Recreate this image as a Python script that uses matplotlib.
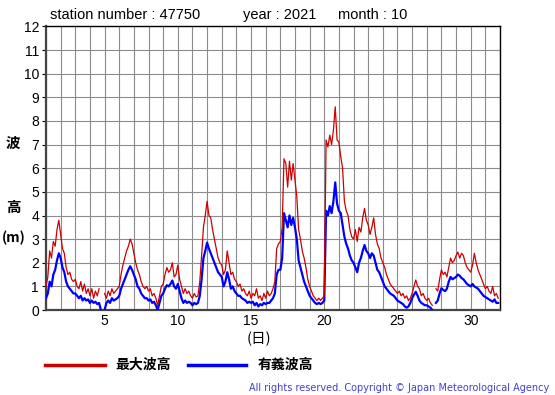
import numpy as np
import matplotlib
matplotlib.use("Agg")
import matplotlib.pyplot as plt
from matplotlib.lines import Line2D

nan = np.nan

# 3-hourly readings, 8 per day, October 1..31
max_wave = [
    1.0, 1.4, 2.5, 2.2, 2.9, 2.7, 3.4, 3.8,
    3.2, 2.6, 2.4, 1.8, 1.5, 1.6, 1.3, 1.2,
    1.3, 1.0, 0.9, 1.2, 0.8, 1.1, 0.7, 0.9,
    0.6, 0.9, 0.5, 0.8, 0.6, 0.9, nan, nan,
    0.7, 0.5, 0.8, 0.6, 0.9, 0.7, 0.8, 0.9,
    1.0, 1.5, 1.9, 2.2, 2.5, 2.7, 3.0, 2.8,
    2.4, 2.0, 1.7, 1.5, 1.2, 1.0, 0.9, 1.0,
    0.8, 0.9, 0.6, 0.7, 0.5, 0.2, 0.6, 1.0,
    1.1, 1.5, 1.8, 1.6, 1.7, 2.0, 1.4, 1.5,
    1.9, 1.3, 1.0, 0.7, 0.9, 0.7, 0.8, 0.6,
    0.5, 0.7, 0.55, 0.6, 1.2, 2.3, 3.5, 4.0,
    4.6, 4.0, 3.9, 3.4, 3.0, 2.6, 2.2, 2.0,
    1.9, 1.5, 1.7, 2.5, 2.0, 1.5, 1.6, 1.3,
    1.2, 1.0, 1.1, 0.8, 0.9, 0.7, 0.6, 0.8,
    0.5, 0.7, 0.6, 0.9, 0.5, 0.6, 0.4, 0.7,
    0.5, 0.8, 0.6, 0.7, 0.9, 1.2, 2.6, 2.8,
    2.9, 3.5, 6.4, 6.2, 5.2, 6.3, 5.5, 6.2,
    5.5, 4.8, 3.4, 3.0, 2.5, 2.2, 1.8, 1.3,
    1.0, 0.8, 0.6, 0.5, 0.4, 0.5, 0.4, 0.5,
    0.6, 7.2, 6.9, 7.4, 7.0, 7.6, 8.6, 7.2,
    7.1, 6.5, 6.0, 4.6, 4.2, 4.0, 3.4, 3.1,
    3.0, 3.4, 2.9, 3.5, 3.3, 3.9, 4.3, 3.8,
    3.6, 3.2, 3.5, 3.9, 3.2, 2.8, 2.6, 2.2,
    2.0, 1.8, 1.5, 1.3, 1.1, 1.0, 0.9, 0.8,
    0.7, 0.8, 0.6, 0.7, 0.5, 0.6, 0.4, 0.5,
    0.7, 1.0, 1.27, 1.0, 0.9, 0.6, 0.7, 0.5,
    0.4, 0.5, 0.3, 0.2, nan, 0.9, 0.8, 1.3,
    1.7, 1.5, 1.6, 1.4, 1.8, 2.2, 2.0, 2.1,
    2.3, 2.45, 2.2, 2.4, 2.3, 2.0, 1.8, 1.7,
    1.6, 1.9, 2.4, 2.0, 1.7, 1.5, 1.3, 1.1,
    0.9, 1.0, 0.8, 0.7, 1.0, 0.6, 0.7, 0.5,
]

sig_wave = [
    0.5, 0.7, 1.2, 1.0, 1.5, 1.7, 2.1, 2.4,
    2.2, 1.8, 1.6, 1.2, 1.0, 0.9, 0.8, 0.7,
    0.7, 0.6, 0.5, 0.6, 0.4, 0.5, 0.4, 0.45,
    0.3, 0.4, 0.3, 0.35, 0.25, 0.3, 0.0, nan,
    0.0, 0.3, 0.4, 0.3, 0.5, 0.4, 0.45, 0.5,
    0.6, 0.9, 1.1, 1.3, 1.5, 1.7, 1.85, 1.7,
    1.5, 1.3, 1.0, 0.9, 0.7, 0.6, 0.5, 0.5,
    0.4, 0.45, 0.3, 0.35, 0.2, 0.0, 0.3, 0.6,
    0.7, 0.9, 1.05, 1.0, 1.1, 1.25, 1.0, 0.9,
    1.1, 0.8, 0.5, 0.3, 0.4, 0.3, 0.35, 0.3,
    0.2, 0.3, 0.25, 0.3, 0.6, 1.3, 2.2, 2.5,
    2.85, 2.6, 2.4, 2.2, 2.0, 1.8, 1.6, 1.5,
    1.4, 1.0, 1.2, 1.6, 1.3, 0.9, 1.0, 0.8,
    0.7, 0.6, 0.6, 0.5, 0.45, 0.4, 0.3, 0.35,
    0.3, 0.35, 0.2, 0.3, 0.15, 0.25, 0.2, 0.3,
    0.25, 0.3, 0.3, 0.4, 0.5, 0.7, 1.5, 1.7,
    1.7, 2.2, 4.1, 3.8, 3.5, 4.0, 3.6, 3.9,
    3.5, 3.0, 2.1, 1.8, 1.5, 1.2, 1.0, 0.8,
    0.6, 0.5, 0.4, 0.3, 0.25, 0.3, 0.25, 0.3,
    0.4, 4.2, 4.0, 4.4, 4.1, 4.6, 5.4, 4.5,
    4.2, 4.1, 3.6, 3.1, 2.8, 2.6, 2.3, 2.1,
    2.0, 1.8, 1.6, 2.0, 2.2, 2.5, 2.75, 2.5,
    2.4, 2.2, 2.4, 2.3, 2.0, 1.7, 1.6, 1.4,
    1.2, 1.0, 0.9, 0.8, 0.7, 0.65, 0.6, 0.5,
    0.4, 0.35, 0.3, 0.25, 0.15, 0.1, 0.15, 0.3,
    0.5, 0.65, 0.77, 0.6, 0.4, 0.3, 0.25, 0.2,
    0.2, 0.15, 0.1, 0.0, nan, 0.3, 0.4, 0.7,
    0.92, 0.85, 0.8, 0.9, 1.2, 1.4, 1.3, 1.35,
    1.4, 1.5, 1.45, 1.35, 1.3, 1.2, 1.1, 1.05,
    1.0, 1.1, 1.0, 0.95, 0.9, 0.8, 0.7, 0.6,
    0.55, 0.5, 0.45, 0.4, 0.35, 0.45, 0.3, 0.3,
]

day_ticks = [5, 10, 15, 20, 25, 30]
height_ticks = list(range(0, 13))

plt.rcParams['font.family'] = ['Liberation Sans', 'Noto Sans CJK JP', 'DejaVu Sans']
cjk = ['Noto Sans CJK JP', 'DejaVu Sans']

days = 1 + np.arange(len(max_wave)) * 3 / 24

fig = plt.figure(figsize=(5.55, 3.95), dpi=100)
ax = fig.add_axes([46 / 555, 1 - 310 / 395, 454 / 555, 283.5 / 395])

ax.plot(days, sig_wave, color='#0000ff', lw=1.6, zorder=3)
ax.plot(days, max_wave, color='#cc0000', lw=0.9, zorder=4)

ax.set_xlim(1, 32)
ax.set_ylim(0, 12)
ax.set_xticks(range(1, 33), minor=True)
ax.set_xticks(day_ticks)
ax.set_yticks(height_ticks)
ax.grid(True, which='both', axis='x', color='#8c8c8c', lw=0.8)
ax.grid(True, which='major', axis='y', color='#8c8c8c', lw=0.8)
ax.set_axisbelow(True)
ax.tick_params(axis='x', which='both', length=0, labelsize=10, pad=3)
ax.tick_params(axis='y', length=3, labelsize=10, pad=2)
for s in ax.spines.values():
    s.set_color('black')
    s.set_linewidth(1.0)
ax.spines['left'].set_color('#444444')
ax.spines['left'].set_linewidth(1.6)
ax.spines['bottom'].set_color('#444444')
ax.spines['bottom'].set_linewidth(1.6)

fig.text(50 / 555, 1 - 15 / 395, 'station number : 47750', fontsize=10.5, va='center')
fig.text(243 / 555, 1 - 15 / 395, 'year : 2021', fontsize=10.5, va='center')
fig.text(338 / 555, 1 - 15 / 395, 'month : 10', fontsize=10.5, va='center')

fig.text(13 / 555, 1 - 143 / 395, '波', family=cjk, fontsize=10.5, weight='bold', ha='center', va='center')
fig.text(13 / 555, 1 - 207 / 395, '高', family=cjk, fontsize=10.5, weight='bold', ha='center', va='center')
fig.text(14 / 555, 1 - 238 / 395, '(m)', family=cjk, fontsize=10, weight='bold', ha='center', va='center')
fig.text(259 / 555, 1 - 339 / 395, '(日)', family=cjk, fontsize=10.5, ha='center', va='center')

fig.add_artist(Line2D([45 / 555, 105 / 555], [1 - 365 / 395] * 2, color='#cc0000', lw=2.5))
fig.text(115 / 555, 1 - 365 / 395, '最大波高', family=cjk, fontsize=10, weight='bold', va='center')
fig.add_artist(Line2D([188 / 555, 246 / 555], [1 - 365 / 395] * 2, color='#0000ff', lw=2.5))
fig.text(258 / 555, 1 - 365 / 395, '有義波高', family=cjk, fontsize=10, weight='bold', va='center')

fig.text(549 / 555, 1 - 388 / 395, 'All rights reserved. Copyright © Japan Meteorological Agency',
         family='DejaVu Sans', fontsize=7, color='#4040d0', ha='right', va='center')

fig.savefig('out.png', dpi=100)
